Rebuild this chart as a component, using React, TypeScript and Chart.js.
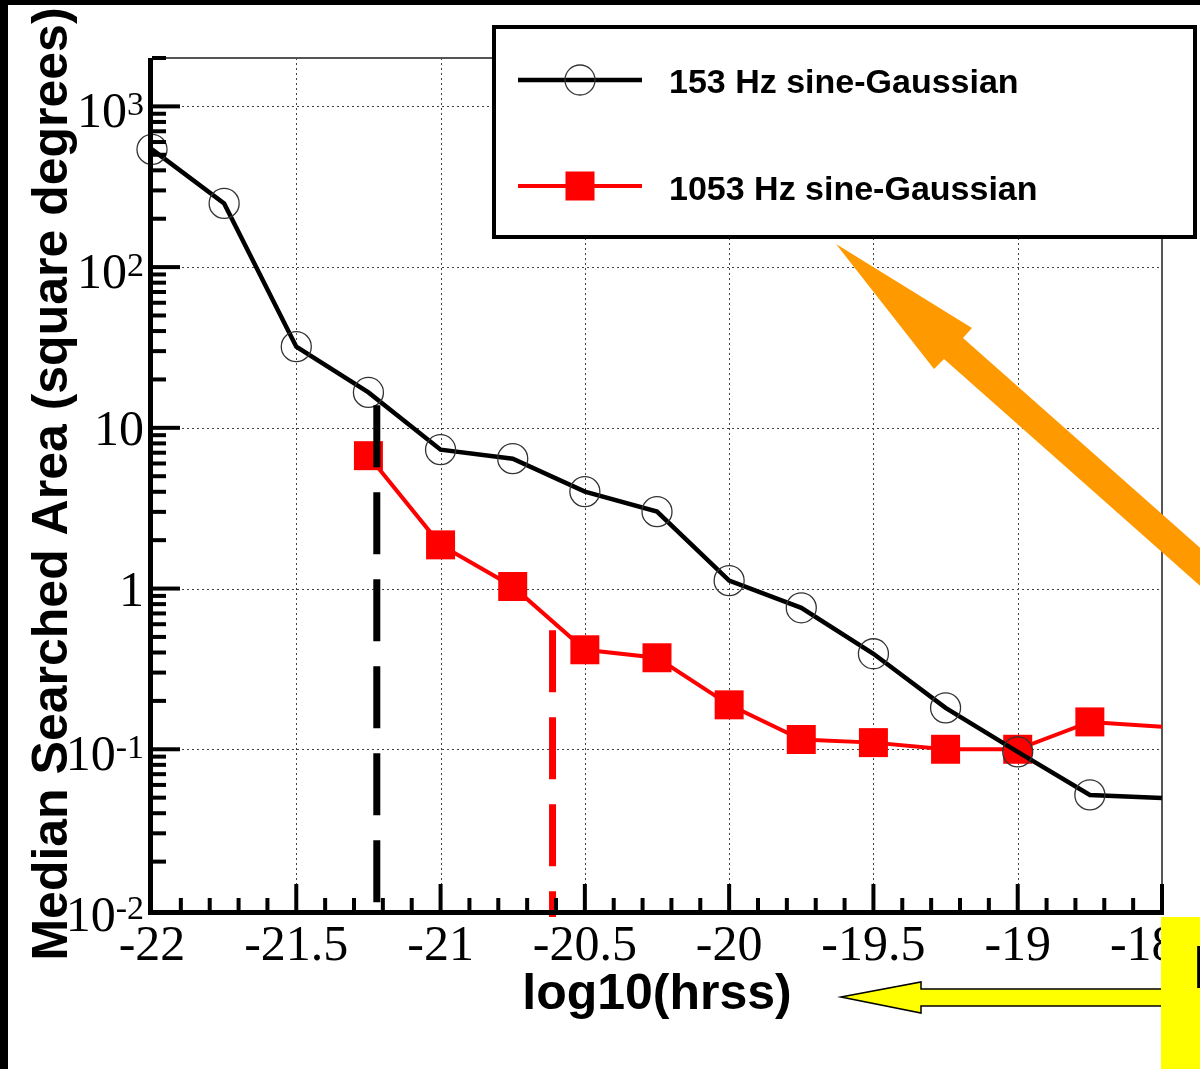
import React, { useEffect, useRef } from 'react';
import { Chart, registerables } from 'chart.js';

Chart.register(...registerables);

// ---- data ----
const hrss153 = [-22, -21.75, -21.5, -21.25, -21, -20.75, -20.5, -20.25, -20, -19.75, -19.5, -19.25, -19, -18.75, -18.5];
const area153 = [540, 249, 32, 16.6, 7.31, 6.43, 4.01, 3.01, 1.12, 0.759, 0.393, 0.181, 0.0964, 0.052, 0.0497];
const hrss1053 = [-21.25, -21, -20.75, -20.5, -20.25, -20, -19.75, -19.5, -19.25, -19, -18.75, -18.5];
const area1053 = [6.71, 1.87, 1.03, 0.416, 0.371, 0.189, 0.115, 0.11, 0.1, 0.1, 0.148, 0.138];
const seriesLabels = ['153 Hz sine-Gaussian', '1053 Hz sine-Gaussian'];

const xTickValues = [-22, -21.5, -21, -20.5, -20, -19.5, -19, -18.5];
const xTickLabels = ['-22', '-21.5', '-21', '-20.5', '-20', '-19.5', '-19', '-18.5'];
const yTickValues = [0.01, 0.1, 1, 10, 100, 1000];
const yTickBase = ['10', '10', '1', '10', '10', '10'];
const yTickExp = ['-2', '-1', '', '', '2', '3'];

// threshold dashed markers (x in log10(hrss), y range in sq. deg.)
const thresholdX = [-21.221, -20.612];
const thresholdTop = [13.8, 0.55];
const thresholdBottom = [0.01, 0.00905];
const thresholdColor = ['#000000', '#ff0000'];

const X_MIN = -22;
const X_MAX = -18.5;
const Y_MIN = 0.01;
const Y_MAX = 2000;

const SERIF = '"Liberation Serif", "Times New Roman", serif';
const SANS = '"Liberation Sans", Arial, sans-serif';

const decorPlugin = {
  id: 'decor',
  beforeDraw(chart: any) {
    const { ctx, width, height } = chart;
    ctx.save();
    ctx.fillStyle = '#ffffff';
    ctx.fillRect(0, 0, width, height);
    ctx.fillStyle = '#000000';
    ctx.fillRect(0, 0, width, 5);
    ctx.fillRect(0, 0, 8, height);
    ctx.restore();
  },
  beforeDatasetsDraw(chart: any) {
    const { ctx, chartArea } = chart;
    const xs = chart.scales.x;
    const ys = chart.scales.y;
    const { left, right, top, bottom } = chartArea;
    ctx.save();
    ctx.strokeStyle = '#444';
    ctx.lineWidth = 1;
    ctx.setLineDash([2, 3]);
    for (let i = 1; i < xTickValues.length - 1; i++) {
      const px = Math.round(xs.getPixelForValue(xTickValues[i])) + 0.5;
      ctx.beginPath();
      ctx.moveTo(px, top);
      ctx.lineTo(px, bottom);
      ctx.stroke();
    }
    for (let i = 1; i < yTickValues.length; i++) {
      const py = Math.round(ys.getPixelForValue(yTickValues[i])) + 0.5;
      ctx.beginPath();
      ctx.moveTo(left, py);
      ctx.lineTo(right, py);
      ctx.stroke();
    }
    ctx.setLineDash([]);
    // thin top and right frame
    ctx.strokeStyle = '#555';
    ctx.lineWidth = 2;
    ctx.beginPath();
    ctx.moveTo(left, top);
    ctx.lineTo(right, top);
    ctx.lineTo(right, bottom);
    ctx.stroke();
    ctx.restore();
  },
  afterDatasetsDraw(chart: any) {
    const { ctx, chartArea } = chart;
    const xs = chart.scales.x;
    const ys = chart.scales.y;
    const { left, right, top, bottom } = chartArea;
    ctx.save();

    // threshold dashed lines
    for (let i = 0; i < thresholdX.length; i++) {
      const px = xs.getPixelForValue(thresholdX[i]);
      const y0 = ys.getPixelForValue(thresholdTop[i]);
      const y1 = ys.getPixelForValue(thresholdBottom[i]);
      ctx.strokeStyle = thresholdColor[i];
      ctx.lineWidth = 7;
      ctx.setLineDash([62, 25]);
      ctx.lineDashOffset = 0;
      ctx.beginPath();
      ctx.moveTo(px, y0);
      ctx.lineTo(px, y1);
      ctx.stroke();
    }
    ctx.setLineDash([]);

    // axes
    ctx.strokeStyle = '#000';
    ctx.fillStyle = '#000';
    ctx.lineWidth = 5;
    ctx.beginPath();
    ctx.moveTo(left - 1.5, top);
    ctx.lineTo(left - 1.5, bottom + 2.5);
    ctx.lineTo(right + 2, bottom + 2.5);
    ctx.stroke();

    // y ticks (log minor + major)
    ctx.lineWidth = 4;
    for (let k = -2; k <= 3; k++) {
      for (let m = 1; m <= 9; m++) {
        const v = m * Math.pow(10, k);
        if (v < Y_MIN - 1e-9 || v > Y_MAX + 1e-6) continue;
        const py = ys.getPixelForValue(v);
        const len = m === 1 ? 28 : 14;
        if (m === 1 && k === -2) continue;
        ctx.beginPath();
        ctx.moveTo(left, py);
        ctx.lineTo(left + len, py);
        ctx.stroke();
      }
    }
    // x ticks
    for (let t = -220; t <= -185; t++) {
      const v = t / 10;
      const px = xs.getPixelForValue(v);
      const major = t % 5 === 0;
      if (t === -220) continue;
      ctx.beginPath();
      ctx.moveTo(px, bottom);
      ctx.lineTo(px, bottom - (major ? 26 : 12));
      ctx.stroke();
    }

    // x tick labels
    ctx.font = `50px ${SERIF}`;
    ctx.textAlign = 'center';
    ctx.textBaseline = 'alphabetic';
    for (let i = 0; i < xTickValues.length; i++) {
      const px = xs.getPixelForValue(xTickValues[i]);
      ctx.fillText(xTickLabels[i], px, bottom + 50);
    }

    // y tick labels with superscripts
    for (let i = 0; i < yTickValues.length; i++) {
      const py = ys.getPixelForValue(yTickValues[i]);
      const exp = yTickExp[i];
      const base = yTickBase[i];
      const baseline = py + 17 + (exp ? 4 : 0);
      const rightEdge = left - 12;
      ctx.textAlign = 'left';
      ctx.textBaseline = 'alphabetic';
      if (exp) {
        ctx.font = `34px ${SERIF}`;
        const ew = ctx.measureText(exp).width;
        ctx.font = `50px ${SERIF}`;
        const bw = ctx.measureText(base).width;
        const x0 = rightEdge - ew - bw + 4;
        ctx.fillText(base, x0, baseline);
        ctx.font = `34px ${SERIF}`;
        ctx.fillText(exp, x0 + bw, baseline - 12);
      } else {
        ctx.font = `50px ${SERIF}`;
        const bw = ctx.measureText(base).width;
        ctx.fillText(base, rightEdge + 4 - bw, baseline);
      }
    }

    // axis titles
    ctx.font = `bold 50px ${SANS}`;
    ctx.textAlign = 'center';
    ctx.textBaseline = 'alphabetic';
    ctx.fillText('log10(hrss)', (left + right) / 2, 1009);
    ctx.save();
    ctx.translate(67, (top + bottom) / 2);
    ctx.rotate(-Math.PI / 2);
    ctx.fillText('Median Searched Area (square degrees)', 0, 0);
    ctx.restore();

    // legend
    ctx.fillStyle = '#ffffff';
    ctx.fillRect(494, 27, 701, 210);
    ctx.strokeStyle = '#000';
    ctx.lineWidth = 4;
    ctx.strokeRect(494, 27, 701, 210);
    const rowsY = [80, 186];
    const baselines = [93, 200];
    chart.data.datasets.forEach((ds: any, i: number) => {
      const y = rowsY[i];
      ctx.strokeStyle = ds.borderColor;
      ctx.lineWidth = ds.borderWidth;
      ctx.beginPath();
      ctx.moveTo(518, y);
      ctx.lineTo(642, y);
      ctx.stroke();
      if (ds.pointStyle === 'circle') {
        ctx.strokeStyle = ds.pointBorderColor;
        ctx.lineWidth = ds.pointBorderWidth;
        ctx.beginPath();
        ctx.arc(580, y, 15, 0, Math.PI * 2);
        ctx.stroke();
      } else {
        ctx.fillStyle = ds.pointBackgroundColor;
        ctx.fillRect(580 - 14.5, y - 14.5, 29, 29);
      }
      ctx.fillStyle = '#000';
      ctx.font = `bold 34px ${SANS}`;
      ctx.textAlign = 'left';
      ctx.textBaseline = 'alphabetic';
      ctx.fillText(ds.label, 669, baselines[i]);
    });

    // orange arrow
    ctx.fillStyle = '#ff9900';
    ctx.beginPath();
    ctx.moveTo(836, 244);
    ctx.lineTo(972, 328);
    ctx.lineTo(963, 338);
    ctx.lineTo(1260, 601);
    ctx.lineTo(1260, 639);
    ctx.lineTo(944, 359);
    ctx.lineTo(934, 369);
    ctx.closePath();
    ctx.fill();

    // yellow arrow
    ctx.fillStyle = '#ffff00';
    ctx.strokeStyle = '#000';
    ctx.lineWidth = 1.5;
    ctx.beginPath();
    ctx.moveTo(841, 997);
    ctx.lineTo(921, 982);
    ctx.lineTo(921, 989);
    ctx.lineTo(1162, 989);
    ctx.lineTo(1162, 1006);
    ctx.lineTo(921, 1006);
    ctx.lineTo(921, 1013);
    ctx.closePath();
    ctx.fill();
    ctx.stroke();

    // yellow box
    ctx.fillStyle = '#ffff00';
    ctx.fillRect(1161, 917, 39, 152);
    ctx.fillStyle = '#000';
    ctx.font = `bold 62px ${SANS}`;
    ctx.textAlign = 'left';
    ctx.fillText('L', 1193, 988);

    ctx.restore();
  },
};

export default function App() {
  const canvasRef = useRef<HTMLCanvasElement | null>(null);

  useEffect(() => {
    const canvas = canvasRef.current;
    if (!canvas) return;
    const chart = new Chart(canvas, {
      type: 'line',
      data: {
        datasets: [
          {
            label: seriesLabels[0],
            data: hrss153.map((x, i) => ({ x, y: area153[i] })),
            borderColor: '#000000',
            borderWidth: 4.5,
            pointStyle: 'circle',
            pointRadius: hrss153.map((_, i) => (i === hrss153.length - 1 ? 0 : 15)),
            pointBorderColor: '#333333',
            pointBorderWidth: 1.3,
            pointBackgroundColor: 'rgba(0,0,0,0)',
            tension: 0,
            clip: false as any,
          },
          {
            label: seriesLabels[1],
            data: hrss1053.map((x, i) => ({ x, y: area1053[i] })),
            borderColor: '#ff0000',
            borderWidth: 4,
            pointStyle: 'rect',
            pointRadius: hrss1053.map((_, i) => (i === hrss1053.length - 1 ? 0 : 20.5)),
            pointBorderColor: '#ff0000',
            pointBorderWidth: 0,
            pointBackgroundColor: '#ff0000',
            tension: 0,
            clip: false as any,
          },
        ],
      },
      options: {
        animation: false,
        responsive: false,
        devicePixelRatio: 1,
        events: [],
        layout: { padding: { left: 152, right: 38, top: 58, bottom: 159 } },
        plugins: {
          legend: { display: false },
          tooltip: { enabled: false },
          title: { display: false },
        },
        scales: {
          x: { type: 'linear', min: X_MIN, max: X_MAX, display: false },
          y: { type: 'logarithmic', min: Y_MIN, max: Y_MAX, display: false },
        },
      },
      plugins: [decorPlugin],
    });
    return () => chart.destroy();
  }, []);

  return (
    <div style={{ position: 'fixed', left: 0, top: 0, width: 1200, height: 1069, background: '#fff' }}>
      <canvas ref={canvasRef} width={1200} height={1069} style={{ display: 'block', width: 1200, height: 1069 }} />
    </div>
  );
}
